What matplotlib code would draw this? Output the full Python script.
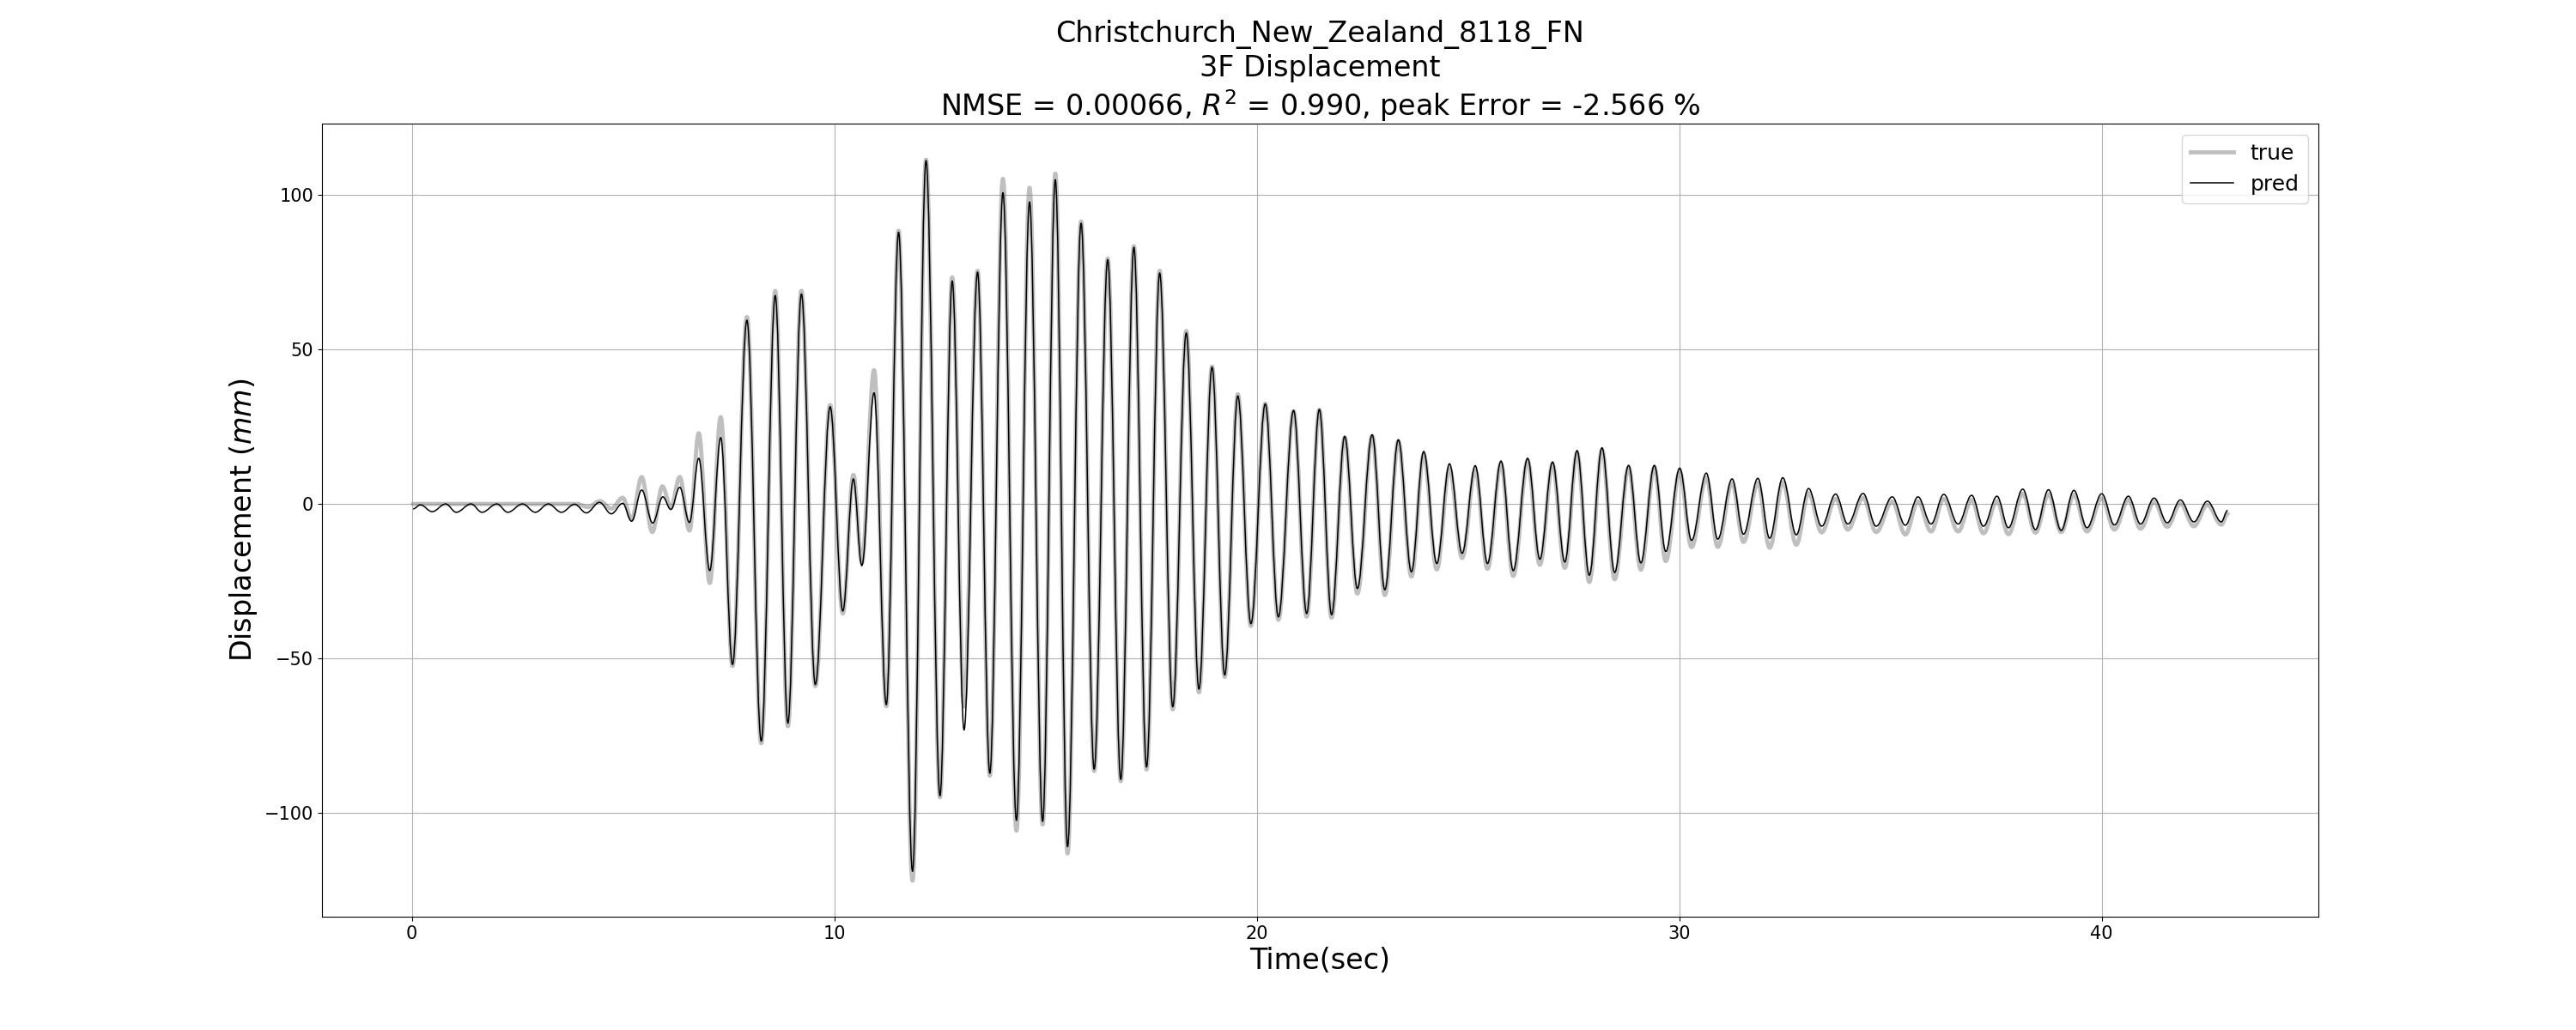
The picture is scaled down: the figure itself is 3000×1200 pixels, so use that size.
import matplotlib
matplotlib.use("Agg")
import matplotlib.pyplot as plt
from matplotlib.path import Path
from matplotlib.patches import PathPatch
from matplotlib.lines import Line2D

# ---- data: turning points (time in s, displacement in mm) ----
pred_t = [0.03, 0.20, 0.48, 0.80, 1.05, 1.40, 1.66, 2.01, 2.27, 2.62, 2.92, 3.23, 3.54, 3.85,
          4.13, 4.44, 4.72, 4.99, 5.20, 5.44, 5.70, 5.94, 6.13, 6.34, 6.57, 6.79, 7.05, 7.31,
          7.59, 7.93, 8.27, 8.60, 8.90, 9.22, 9.55, 9.90, 10.20, 10.45, 10.65, 10.94, 11.23,
          11.52, 11.85, 12.17, 12.50, 12.79, 13.07, 13.39, 13.68, 13.99, 14.31, 14.62, 14.93,
          15.23, 15.52, 15.84, 16.15, 16.47, 16.78, 17.09, 17.39, 17.70, 18.01, 18.33, 18.63,
          18.94, 19.24, 19.55, 19.86, 20.20, 20.51, 20.87, 21.18, 21.48, 21.77, 22.08, 22.38,
          22.73, 23.03, 23.35, 23.66, 23.95, 24.26, 24.56, 24.86, 25.17, 25.46, 25.78, 26.07,
          26.41, 26.70, 27.00, 27.29, 27.58, 27.87, 28.17, 28.47, 28.80, 29.09, 29.41, 29.68,
          30.01, 30.29, 30.64, 30.91, 31.25, 31.52, 31.86, 32.14, 32.45, 32.77, 33.06, 33.37,
          33.70, 33.99, 34.35, 34.66, 35.04, 35.35, 35.65, 35.96, 36.26, 36.60, 36.92, 37.20,
          37.52, 37.79, 38.13, 38.43, 38.74, 39.04, 39.34, 39.65, 40.00, 40.30, 40.63, 40.92,
          41.24, 41.55, 41.86, 42.18, 42.50, 42.83, 42.98]
pred_v = [-1.6, -0.3, -2.5, 0.0, -2.7, 0.0, -2.7, 0.0, -2.7, 0.0, -2.7, 0.0, -2.7, -0.1,
          -2.9, 0.5, -3.2, 0.2, -5.6, 4.5, -6.2, 2.3, -1.8, 5.4, -6.0, 14.8, -21.6, 21.5,
          -52.0, 59.5, -76.8, 67.5, -71.0, 68.0, -58.5, 31.5, -34.7, 8.1, -20.0, 36.0, -65.0,
          88.0, -119.0, 111.2, -94.5, 72.2, -73.2, 75.1, -87.2, 100.8, -102.5, 97.8, -102.8,
          105.0, -111.0, 90.9, -85.9, 79.1, -89.2, 83.1, -85.2, 74.8, -65.7, 55.4, -60.0,
          44.3, -55.4, 35.0, -38.8, 32.4, -36.6, 30.3, -35.5, 30.6, -35.9, 21.9, -27.4,
          22.4, -27.8, 20.8, -22.0, 17.0, -19.3, 13.0, -16.0, 12.4, -19.3, 13.9, -21.6,
          14.8, -17.9, 13.6, -18.8, 17.3, -23.1, 18.2, -22.2, 12.5, -19.1, 12.5, -15.4,
          11.6, -11.8, 10.0, -11.4, 8.1, -9.8, 8.3, -11.1, 8.5, -10.0, 5.0, -7.2,
          3.2, -6.5, 3.4, -7.2, 2.3, -6.9, 2.3, -6.5, 3.1, -6.5, 2.8, -7.2,
          2.5, -7.7, 4.8, -8.3, 4.6, -8.6, 4.4, -7.7, 3.3, -6.8, 2.5, -6.5,
          1.9, -6.1, 1.3, -5.8, 0.9, -5.8, -2.1]

true_t = [0.02, 3.90, 4.17, 4.45, 4.72, 4.99, 5.20, 5.44, 5.69, 5.93, 6.13, 6.34, 6.57, 6.79,
          7.05, 7.31, 7.59, 7.93, 8.27, 8.60, 8.90, 9.22, 9.55, 9.90, 10.20, 10.45, 10.65,
          10.94, 11.23, 11.52, 11.85, 12.17, 12.50, 12.79, 13.07, 13.39, 13.68, 13.99, 14.31,
          14.62, 14.93, 15.23, 15.52, 15.84, 16.15, 16.47, 16.78, 17.09, 17.39, 17.70, 18.01,
          18.33, 18.63, 18.94, 19.24, 19.55, 19.86, 20.20, 20.51, 20.87, 21.18, 21.48, 21.77,
          22.08, 22.38, 22.73, 23.03, 23.35, 23.66, 23.95, 24.26, 24.56, 24.86, 25.17, 25.46,
          25.78, 26.07, 26.41, 26.70, 27.00, 27.29, 27.58, 27.87, 28.17, 28.47, 28.80, 29.09,
          29.41, 29.68, 30.01, 30.29, 30.64, 30.91, 31.25, 31.52, 31.86, 32.14, 32.45, 32.77,
          33.06, 33.37, 33.70, 33.99, 34.35, 34.66, 35.04, 35.35, 35.65, 35.96, 36.26, 36.60,
          36.92, 37.20, 37.52, 37.79, 38.13, 38.43, 38.74, 39.04, 39.34, 39.65, 40.00, 40.30,
          40.63, 40.92, 41.24, 41.55, 41.86, 42.18, 42.50, 42.83, 42.98]
true_v = [0.0, 0.0, -1.0, 0.9, -1.5, 2.0, -5.0, 8.7, -9.1, 5.7, -1.2, 8.7, -8.6, 22.9,
          -25.6, 28.1, -52.5, 60.5, -77.5, 69.0, -72.0, 69.0, -59.0, 32.0, -35.5, 9.4, -19.0,
          43.3, -65.5, 88.5, -122.0, 111.5, -95.0, 73.4, -65.6, 75.5, -88.0, 105.3, -105.8,
          102.4, -103.8, 107.0, -113.2, 91.5, -86.5, 79.5, -89.8, 83.5, -86.0, 75.5, -66.5,
          56.0, -61.0, 44.5, -56.0, 35.5, -39.5, 32.5, -37.5, 30.0, -36.5, 30.5, -36.8,
          21.5, -29.0, 22.0, -29.5, 20.3, -23.5, 16.0, -21.2, 11.5, -17.5, 11.0, -21.0,
          13.0, -23.3, 14.0, -19.7, 12.8, -20.7, 16.5, -25.3, 17.5, -24.4, 11.8, -21.3,
          11.8, -18.5, 10.5, -14.0, 8.5, -13.9, 6.8, -12.3, 6.8, -14.2, 7.0, -13.2,
          3.5, -9.2, 1.7, -8.3, 2.0, -9.1, 0.8, -9.9, 0.8, -8.9, 1.6, -8.9,
          1.3, -9.5, 1.0, -9.8, 3.3, -9.3, 3.1, -9.1, 2.9, -8.9, 1.8, -8.3,
          1.3, -8.0, 0.7, -7.4, 0.1, -7.2, -0.3, -6.7, -3.2]

title_text = "Christchurch_New_Zealand_8118_FN\n3F Displacement\nNMSE = 0.00066, $R^2$ = 0.990, peak Error = -2.566 %"
x_label = "Time(sec)"
y_label = "Displacement ($mm$)"
series_labels = ["true", "pred"]


def smooth_path(ts, vs, k=0.3642):
    """Path through the turning points, rendered by matplotlib as cubic Bezier
    segments with flat tangents at every turning point."""
    verts = [(ts[0], vs[0])]
    codes = [Path.MOVETO]
    for i in range(1, len(ts)):
        t0, v0, t1, v1 = ts[i - 1], vs[i - 1], ts[i], vs[i]
        d = t1 - t0
        verts += [(t0 + k * d, v0), (t1 - k * d, v1), (t1, v1)]
        codes += [Path.CURVE4, Path.CURVE4, Path.CURVE4]
    return Path(verts, codes)


fig, ax = plt.subplots(figsize=(30, 12), dpi=100)

true_style = dict(color="gray", alpha=0.5, lw=3.5)
pred_style = dict(color="black", alpha=1.0, lw=1.1)

ax.add_patch(PathPatch(smooth_path(true_t, true_v), fill=False, edgecolor=true_style["color"],
                       alpha=true_style["alpha"], lw=true_style["lw"], capstyle="round",
                       joinstyle="round", zorder=2))
ax.add_patch(PathPatch(smooth_path(pred_t, pred_v), fill=False, edgecolor=pred_style["color"],
                       lw=pred_style["lw"], joinstyle="round", zorder=3))
ax.autoscale_view()

handles = [Line2D([], [], **true_style), Line2D([], [], **pred_style)]
ax.legend(handles, series_labels, loc="upper right", fontsize=18)

ax.grid(True)
ax.set_axisbelow(True)
ax.set_title(title_text, fontsize=24)
ax.set_xlabel(x_label, fontsize=24)
ax.set_ylabel(y_label, fontsize=24)
ax.tick_params(labelsize=15)

fig.savefig("out.png", dpi=100)
